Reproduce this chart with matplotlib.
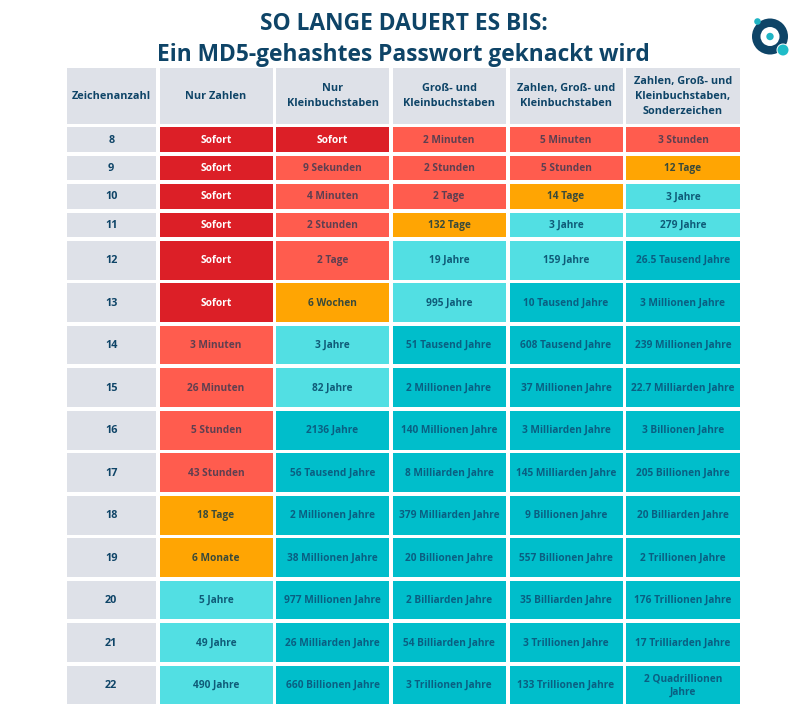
import matplotlib
matplotlib.use("Agg")
import matplotlib.pyplot as plt
from matplotlib.patches import Rectangle, Circle

plt.rcParams['font.family'] = ['Open Sans', 'DejaVu Sans']

title_lines = ["SO LANGE DAUERT ES BIS:", "Ein MD5-gehashtes Passwort geknackt wird"]
headers = ["Zeichenanzahl", "Nur Zahlen", "Nur\nKleinbuchstaben", "Groß- und\nKleinbuchstaben",
           "Zahlen, Groß- und\nKleinbuchstaben", "Zahlen, Groß- und\nKleinbuchstaben,\nSonderzeichen"]
lengths = ["8", "9", "10", "11", "12", "13", "14", "15", "16", "17", "18", "19", "20", "21", "22"]

only_digits = ["Sofort", "Sofort", "Sofort", "Sofort", "Sofort", "Sofort", "3 Minuten", "26 Minuten", "5 Stunden",
               "43 Stunden", "18 Tage", "6 Monate", "5 Jahre", "49 Jahre", "490 Jahre"]
only_lower = ["Sofort", "9 Sekunden", "4 Minuten", "2 Stunden", "2 Tage", "6 Wochen", "3 Jahre", "82 Jahre",
              "2136 Jahre", "56 Tausend Jahre", "2 Millionen Jahre", "38 Millionen Jahre", "977 Millionen Jahre",
              "26 Milliarden Jahre", "660 Billionen Jahre"]
upper_lower = ["2 Minuten", "2 Stunden", "2 Tage", "132 Tage", "19 Jahre", "995 Jahre", "51 Tausend Jahre",
               "2 Millionen Jahre", "140 Millionen Jahre", "8 Milliarden Jahre", "379 Milliarden Jahre",
               "20 Billionen Jahre", "2 Billiarden Jahre", "54 Billiarden Jahre", "3 Trillionen Jahre"]
digits_mixed = ["5 Minuten", "5 Stunden", "14 Tage", "3 Jahre", "159 Jahre", "10 Tausend Jahre", "608 Tausend Jahre",
                "37 Millionen Jahre", "3 Milliarden Jahre", "145 Milliarden Jahre", "9 Billionen Jahre",
                "557 Billionen Jahre", "35 Billiarden Jahre", "3 Trillionen Jahre", "133 Trillionen Jahre"]
all_chars = ["3 Stunden", "12 Tage", "3 Jahre", "279 Jahre", "26.5 Tausend Jahre", "3 Millionen Jahre",
             "239 Millionen Jahre", "22.7 Milliarden Jahre", "3 Billionen Jahre", "205 Billionen Jahre",
             "20 Billiarden Jahre", "2 Trillionen Jahre", "176 Trillionen Jahre", "17 Trilliarden Jahre",
             "2 Quadrillionen\nJahre"]

# severity class per cell: 0 instant, 1 minutes/hours, 2 days/months, 3 years, 4 thousands of years and more
sev_digits = [0, 0, 0, 0, 0, 0, 1, 1, 1, 1, 2, 2, 3, 3, 3]
sev_lower = [0, 1, 1, 1, 1, 2, 3, 3, 4, 4, 4, 4, 4, 4, 4]
sev_upper = [1, 1, 1, 2, 3, 3, 4, 4, 4, 4, 4, 4, 4, 4, 4]
sev_mixed = [1, 1, 2, 3, 3, 4, 4, 4, 4, 4, 4, 4, 4, 4, 4]
sev_all = [1, 2, 3, 3, 4, 4, 4, 4, 4, 4, 4, 4, 4, 4, 4]

columns = [only_digits, only_lower, upper_lower, digits_mixed, all_chars]
severities = [sev_digits, sev_lower, sev_upper, sev_mixed, sev_all]

NAVY = "#0E4467"
GRAY = "#DEE1E8"
FILL = ["#DC1F27", "#FF5C4E", "#FFA503", "#52DFE3", "#00BECB"]
TXT = ["white", "#5E3F50", "#3A4A3A", "#0F5B78", "#0A5F82"]

col_edges = [(66.5, 156), (159.5, 272.5), (276, 389), (392.5, 505.5), (509.5, 622.5), (626, 740)]
header_span = (68, 123.5)
row_spans = [(127, 152), (155.5, 180), (184, 208.5), (212.5, 237), (240.5, 279.5), (283, 322), (325.5, 364),
             (368, 407), (410.5, 449.5), (453, 492), (495.5, 534.5), (538, 577), (580.5, 619), (623, 662), (665.5, 704)]

fig = plt.figure(figsize=(8, 7.16), dpi=100, facecolor="white")
ax = fig.add_axes([0, 0, 1, 1])
ax.set_xlim(0, 800)
ax.set_ylim(716, 0)
ax.axis("off")


def cell(c, span, color, label, tcolor, size=7.3, spacing=1.35):
    x0, x1 = col_edges[c]
    y0, y1 = span
    ax.add_patch(Rectangle((x0, y0), x1 - x0, y1 - y0, fc=color, ec="none"))
    ax.text((x0 + x1) / 2, (y0 + y1) / 2 + 0.7, label, ha="center", va="center", fontsize=size,
            fontweight="bold", color=tcolor, linespacing=spacing)


for line, y in zip(title_lines, (23.5, 55)):
    ax.text(403.5, y, line, ha="center", va="center", fontsize=16.4, fontweight="bold", color=NAVY)

for c, h in enumerate(headers):
    cell(c, header_span, GRAY, h, NAVY, 7.8, 1.5)

for r, span in enumerate(row_spans):
    cell(0, span, GRAY, lengths[r], NAVY, 7.8)
    for c, (col, sev) in enumerate(zip(columns, severities), start=1):
        cell(c, span, FILL[sev[r]], col[r], TXT[sev[r]])

# logo
ax.add_patch(Circle((770, 36.5), 18, fc=NAVY, ec="none"))
ax.add_patch(Circle((770, 36.5), 9.5, fc="white", ec="none"))
ax.add_patch(Circle((770, 36.5), 3.7, fc="#1FB4C4", ec="none"))
ax.add_patch(Circle((757.5, 21.5), 3.3, fc="#1FB4C4", ec="none"))
ax.add_patch(Circle((783, 50), 6.5, fc="white", ec="none"))
ax.add_patch(Circle((783, 50), 5.5, fc="#1FBCC8", ec="none"))

fig.savefig("out.png", dpi=100, facecolor="white")
